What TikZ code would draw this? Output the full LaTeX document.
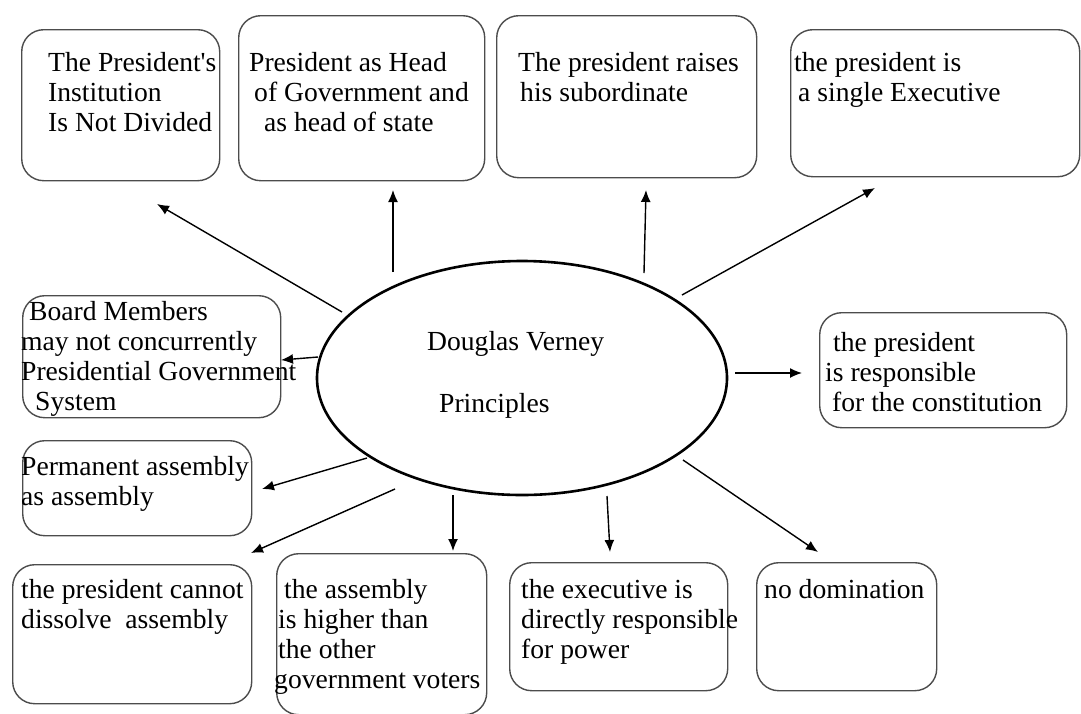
\documentclass[tikz,border=0pt]{standalone}
\usepackage{xcolor}
\usepackage{fontspec}
\setmainfont{Liberation Serif}
\usepackage{tikz}
\usetikzlibrary{arrows.meta,shapes.geometric}

\begin{document}
\begin{tikzpicture}[x=1pt, y=-1pt,
    box/.style={draw=black!70, line width=1.4pt, rounded corners=22pt, anchor=north west, inner sep=0pt},
    txt/.style={anchor=north west, inner sep=0pt, align=left, font=\fontsize{27.6}{30}\selectfont},
    arr/.style={-{Latex[length=12pt, width=10pt]}, line width=1.4pt}]
  \useasboundingbox (0,0) rectangle (1081,713);

          \foreach \x/\y/\w/\h [count=\i from 1] in {21/29/198/151, 238/15/246/165, 496/15/260/162, 790/29/289/147, 22/295/258/122, 819/312/247/115, 22/440/229/95, 12/564/239/139, 276/553/210/161, 509/562/218/128, 756/562/180/128}{%
            \node[box, minimum width=\w, minimum height=\h] (b\i) at (\x, \y) {};
          }

          \node[draw, ellipse, line width=2.6pt, minimum width=410, minimum height=234, inner sep=0pt] (ell) at (522, 378) {};
          \node[txt] (core) at (427, 331) {Douglas Verney\\[32pt]\hspace*{12pt}Principles};

          \node[txt] (t1) at (48, 52) {The President\textquotesingle s\\Institution\\Is Not Divided};
          \node[txt] (t2) at (249, 52) {President as Head\\\hspace*{5pt}of Government and\\\hspace*{15pt}as head of state};
          \node[txt] (t3) at (518, 52) {The president raises\\\hspace*{2pt}his subordinate};
          \node[txt] (t4) at (794, 52) {the president is\\\hspace*{4pt}a single Executive};
          \node[txt] (t5) at (21, 301) {\hspace*{8pt}Board Members\\may not concurrently\\Presidential Government\\\hspace*{14pt}System};
          \node[txt] (t6) at (825, 332) {\hspace*{8pt}the president\\is responsible\\\hspace*{7pt}for the constitution};
          \node[txt] (t7) at (21, 456) {Permanent assembly\\as assembly};
          \node[txt] (t8) at (21, 579) {the president cannot\\dissolve\ \ assembly};
          \node[txt] (t9) at (274, 579) {\hspace*{10pt}the assembly\\\hspace*{4pt}is higher than\\\hspace*{4pt}the other\\government voters};
          \node[txt] (t10) at (521, 579) {the executive is\\directly responsible\\for power};
          \node[txt] (t11) at (764, 579) {no domination};

          \foreach \sx/\sy/\ex/\ey [count=\i from 1] in {342/312/157/204, 393/272/393/190, 644/273/646/190, 682/295/875/188, 318/357/281/360, 735/373/802/373, 367/458/262/489, 395/489/251/553, 453/495/453/551, 607/496/610/552, 683/460/818/552}{%
            \coordinate (s\i) at (\sx, \sy);
            \coordinate (e\i) at (\ex, \ey);
            \draw[arr] (s\i) -- (e\i);
          }
        \end{tikzpicture}
\end{document}
